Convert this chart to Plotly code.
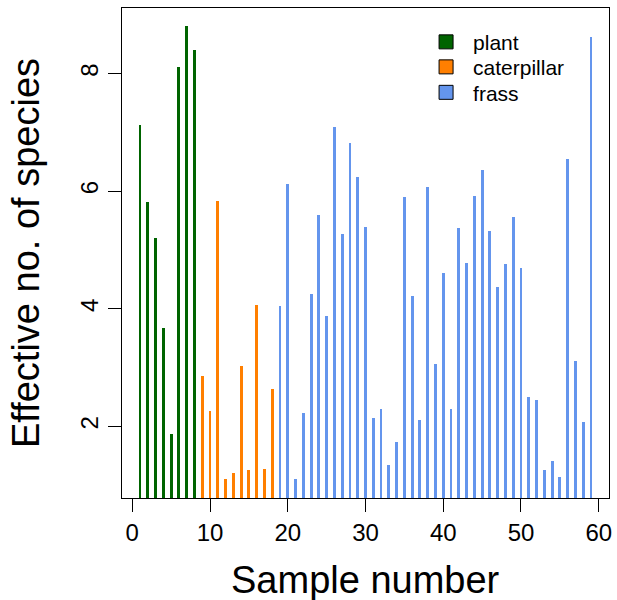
import plotly.graph_objects as go

plant_x = [1, 2, 3, 4, 5, 6, 7, 8]
plant_y = [7.13, 5.82, 5.21, 3.68, 1.87, 8.11, 8.81, 8.41]

cat_x = [9, 10, 11, 12, 13, 14, 15, 16, 17, 18]
cat_y = [2.86, 2.26, 5.83, 1.10, 1.20, 3.02, 1.26, 4.07, 1.28, 2.64]

frass_x = list(range(19, 60))
frass_y = [4.05, 6.12, 1.11, 2.23, 4.25, 5.59, 3.88, 7.10, 5.28, 6.82,
           6.24, 5.39, 2.15, 2.30, 1.35, 1.74, 5.91, 4.22, 2.11, 6.07,
           3.07, 4.61, 2.30, 5.38, 4.78, 5.92, 6.36, 5.32, 4.37, 4.76,
           5.57, 4.69, 2.50, 2.45, 1.26, 1.41, 1.14, 6.55, 3.12, 2.07, 8.63]

x_ticks = [0, 10, 20, 30, 40, 50, 60]
y_ticks = [2, 4, 6, 8]

colors = {"plant": "#006400", "caterpillar": "#FF7F00", "frass": "#6495ED"}
FONT = "Liberation Sans, Arial, Helvetica, sans-serif"

fig = go.Figure()
legend_ids = ["legend", "legend2", "legend3"]
for i, (name, xs, ys) in enumerate([("plant", plant_x, plant_y),
                                    ("caterpillar", cat_x, cat_y),
                                    ("frass", frass_x, frass_y)]):
    fig.add_trace(go.Bar(x=xs, y=ys, base=0, width=0.37,
                         marker=dict(color=colors[name], line=dict(width=0)),
                         showlegend=False, hoverinfo="x+y"))
    fig.add_trace(go.Scatter(x=[None], y=[None], mode="markers", name=name,
                             legend=legend_ids[i],
                             marker=dict(symbol="square", size=14, color=colors[name],
                                         line=dict(color="black", width=1))))

leg_common = dict(x=0.61, xanchor="left", yanchor="top",
                  font=dict(size=21, family=FONT), itemwidth=44,
                  bgcolor="rgba(0,0,0,0)")

fig.update_layout(
    width=617, height=600,
    margin=dict(l=122, r=5, t=8, b=102),
    plot_bgcolor="white", paper_bgcolor="white",
    font=dict(family=FONT, color="black"),
    bargap=0,
    legend=dict(y=0.972, **leg_common),
    legend2=dict(y=0.921, **leg_common),
    legend3=dict(y=0.869, **leg_common),
    annotations=[
        dict(text="Sample number", xref="paper", yref="paper", x=0.5, y=-0.168,
             xanchor="center", yanchor="middle", showarrow=False,
             font=dict(size=38, family=FONT)),
        dict(text="Effective no. of species", xref="paper", yref="paper", x=-0.197, y=0.5,
             xanchor="center", yanchor="middle", showarrow=False, textangle=-90,
             font=dict(size=38, family=FONT)),
    ],
)
fig.update_xaxes(range=[-1.32, 61.32], tickvals=x_ticks, ticks="outside", ticklen=13,
                 tickwidth=1, tickcolor="black", showline=True, mirror=True,
                 linecolor="black", linewidth=1, showgrid=False, zeroline=False,
                 tickfont=dict(size=24, family=FONT))
fig.update_yaxes(range=[0.782, 9.118], tickvals=y_ticks, ticks="outside", ticklen=13,
                 tickwidth=1, tickcolor="black", showline=True, mirror=True,
                 linecolor="black", linewidth=1, showgrid=False, zeroline=False,
                 tickangle=-90, tickfont=dict(size=24, family=FONT))

fig.write_html("out.html")
